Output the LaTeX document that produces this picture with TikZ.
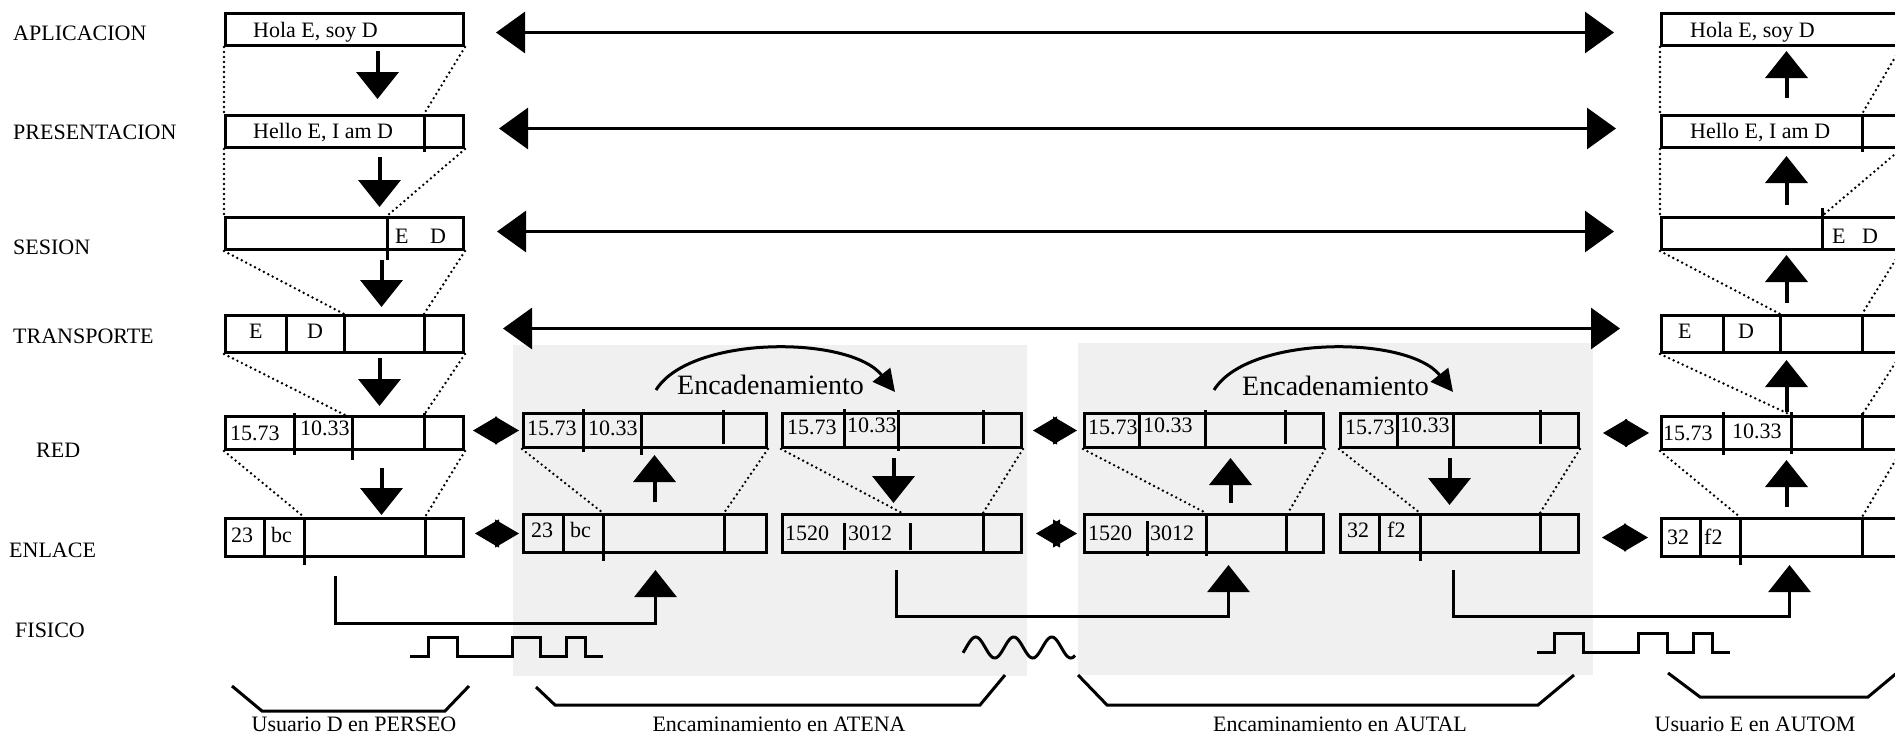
\documentclass[tikz,border=0pt]{standalone}
\usepackage{fontspec}
\setmainfont{Liberation Serif}
\usetikzlibrary{arrows.meta}

\newcommand{\fsz}{\fontsize{22pt}{26pt}\selectfont}
\newcommand{\encsz}{\fontsize{28pt}{32pt}\selectfont}
% packet box: name, x, y (top), width, height
\newcommand{\pktbox}[5]{\node[pkt, minimum width=#4pt, minimum height=#5pt] (#1) at (#2,#3) {};}
% field separator: box, dx from left, offset at top (+ = down), offset at bottom (+ = down)
\newcommand{\fieldsep}[4]{\draw[fieldline] ([shift={(#2,#3)}]#1.north west) -- ([shift={(#2,#4)}]#1.south west);}
% field text: name, box, dx from left, baseline below top, text
\newcommand{\fieldtext}[5]{\node[fieldtxt] (#1) at ([shift={(#3,#4)}]#2.north west) {#5};}

\begin{document}
\begin{tikzpicture}[x=1pt, y=-1pt,
  pkt/.style={draw, line width=3pt, rectangle, inner sep=0pt, anchor=north west},
  fieldline/.style={line width=3pt},
  fieldtxt/.style={font=\fsz, inner sep=0pt, anchor=base west},
  layer/.style={font=\fsz, inner sep=0pt, anchor=base west},
  caption/.style={font=\fsz, inner sep=0pt, anchor=base},
  enctxt/.style={font=\encsz, inner sep=0pt, anchor=base west},
  dots/.style={line width=2.7pt, line cap=round, dash pattern=on 0pt off 5pt},
  stack/.style={line width=4pt, -{Triangle[length=27pt,width=42pt]}},
  peer/.style={line width=3pt, {Triangle[length=29pt,width=41pt]}-{Triangle[length=29pt,width=41pt]}},
  hop/.style={line width=1pt, {Triangle[length=24pt,width=28pt]}-{Triangle[length=24pt,width=28pt]}},
  medium/.style={line width=3pt, -{Triangle[length=27pt,width=42pt]}},
  chainarrow/.style={line width=3pt, -{Triangle[length=22pt,width=22pt]}},
  brace/.style={line width=3pt},
  signal/.style={line width=3pt},
  zone/.style={fill=black!6}]

\useasboundingbox (0,0) rectangle (1895,737);
\clip (0,0) rectangle (1895,737);
\fill[white] (0,0) rectangle (1895,737);

% routers' shaded areas
\fill[zone] (513,345) rectangle (1027,676);
\fill[zone] (1078,343) rectangle (1593,675);

% layer names
\node[layer] (l-ap) at (13,40) {APLICACION};
\node[layer] (l-pr) at (13,139) {PRESENTACION};
\node[layer] (l-se) at (13,254) {SESION};
\node[layer] (l-tr) at (13,343) {TRANSPORTE};
\node[layer] (l-rd) at (36,457) {RED};
\node[layer] (l-en) at (9,557) {ENLACE};
\node[layer] (l-fi) at (15,637) {FISICO};

% ---------- host D (PERSEO) ----------
\pktbox{lc-ap}{224}{12}{238}{32}
\pktbox{lc-pr}{224}{114}{238}{32}
\pktbox{lc-se}{224}{216}{238}{32}
\pktbox{lc-tr}{224}{314}{238}{37}
\pktbox{lc-rd}{224}{415}{238}{33}
\pktbox{lc-en}{224}{517}{238}{38}
\fieldsep{lc-pr}{200}{0}{3}
\fieldsep{lc-se}{163}{3}{9}
\fieldsep{lc-tr}{62}{0}{0}
\fieldsep{lc-tr}{120}{0}{0}
\fieldsep{lc-tr}{200}{0}{0}
\fieldsep{lc-rd}{70}{-2}{4}
\fieldsep{lc-rd}{128}{0}{9}
\fieldsep{lc-rd}{200}{-2}{-3}
\fieldsep{lc-en}{40}{0}{0}
\fieldsep{lc-en}{80}{0}{7}
\fieldsep{lc-en}{201}{0}{0}
\fieldtext{t-lc-ap}{lc-ap}{29}{25}{Hola E, soy D}
\fieldtext{t-lc-pr}{lc-pr}{29}{24}{Hello E, I am D}
\fieldtext{t-lc-se1}{lc-se}{171}{27}{E}
\fieldtext{t-lc-se2}{lc-se}{206}{27}{D}
\fieldtext{t-lc-tr1}{lc-tr}{25}{24}{E}
\fieldtext{t-lc-tr2}{lc-tr}{83}{24}{D}
\fieldtext{t-lc-rd1}{lc-rd}{6}{25}{15.73}
\fieldtext{t-lc-rd2}{lc-rd}{76}{20}{10.33}
\fieldtext{t-lc-en1}{lc-en}{7}{25}{23}
\fieldtext{t-lc-en2}{lc-en}{47}{25}{bc}

% ---------- host E (AUTOM) ----------
\pktbox{rc-ap}{1660}{12}{238}{32}
\pktbox{rc-pr}{1660}{114}{238}{32}
\pktbox{rc-se}{1660}{216}{238}{32}
\pktbox{rc-tr}{1660}{314}{238}{37}
\pktbox{rc-rd}{1660}{415}{238}{33}
\pktbox{rc-en}{1660}{517}{238}{38}
\fieldsep{rc-pr}{202}{0}{3}
\fieldsep{rc-se}{162}{-8}{-3}
\fieldsep{rc-tr}{63}{0}{0}
\fieldsep{rc-tr}{120}{0}{0}
\fieldsep{rc-tr}{202}{0}{0}
\fieldsep{rc-rd}{63}{-3}{4}
\fieldsep{rc-rd}{131}{-3}{3}
\fieldsep{rc-rd}{202}{-2}{-3}
\fieldsep{rc-en}{40}{0}{0}
\fieldsep{rc-en}{80}{0}{7}
\fieldsep{rc-en}{202}{0}{0}
\fieldtext{t-rc-ap}{rc-ap}{30}{25}{Hola E, soy D}
\fieldtext{t-rc-pr}{rc-pr}{30}{24}{Hello E, I am D}
\fieldtext{t-rc-se1}{rc-se}{172}{27}{E}
\fieldtext{t-rc-se2}{rc-se}{202}{27}{D}
\fieldtext{t-rc-tr1}{rc-tr}{18}{24}{E}
\fieldtext{t-rc-tr2}{rc-tr}{78}{24}{D}
\fieldtext{t-rc-rd1}{rc-rd}{3}{25}{15.73}
\fieldtext{t-rc-rd2}{rc-rd}{72}{23}{10.33}
\fieldtext{t-rc-en1}{rc-en}{7}{27}{32}
\fieldtext{t-rc-en2}{rc-en}{44}{27}{f2}

% ---------- router ATENA ----------
\pktbox{at-rl}{522}{412}{243}{34}
\pktbox{at-el}{522}{513}{243}{38}
\pktbox{at-rr}{781}{412}{239}{34}
\pktbox{at-er}{781}{513}{239}{38}
\fieldsep{at-rl}{61}{-3}{3}
\fieldsep{at-rl}{119}{0}{6}
\fieldsep{at-rl}{201}{-2}{-5}
\fieldsep{at-el}{41}{0}{0}
\fieldsep{at-el}{81}{0}{7}
\fieldsep{at-el}{202}{0}{0}
\fieldsep{at-rr}{63}{-3}{0}
\fieldsep{at-rr}{117}{-2}{2}
\fieldsep{at-rr}{202}{-2}{-5}
\fieldsep{at-er}{63}{10}{-4}
\fieldsep{at-er}{129}{10}{-4}
\fieldsep{at-er}{202}{0}{0}
\fieldtext{t-at-rl1}{at-rl}{5}{23}{15.73}
\fieldtext{t-at-rl2}{at-rl}{66}{23}{10.33}
\fieldtext{t-at-el1}{at-el}{9}{24}{23}
\fieldtext{t-at-el2}{at-el}{48}{24}{bc}
\fieldtext{t-at-rr1}{at-rr}{6}{22}{15.73}
\fieldtext{t-at-rr2}{at-rr}{66}{20}{10.33}
\fieldtext{t-at-er1}{at-er}{4}{27}{1520}
\fieldtext{t-at-er2}{at-er}{67}{27}{3012}

% ---------- router AUTAL ----------
\pktbox{au-rl}{1083}{412}{239}{34}
\pktbox{au-el}{1083}{513}{239}{38}
\pktbox{au-rr}{1339}{412}{238}{34}
\pktbox{au-er}{1339}{513}{238}{38}
\fieldsep{au-rl}{56}{0}{0}
\fieldsep{au-rl}{122}{-2}{0}
\fieldsep{au-rl}{202}{-2}{-5}
\fieldsep{au-el}{64}{8}{2}
\fieldsep{au-el}{123}{0}{2}
\fieldsep{au-el}{203}{0}{0}
\fieldsep{au-rr}{58}{0}{0}
\fieldsep{au-rr}{114}{0}{0}
\fieldsep{au-rr}{201}{-2}{-5}
\fieldsep{au-er}{40}{0}{0}
\fieldsep{au-er}{81}{0}{7}
\fieldsep{au-er}{201}{0}{0}
\fieldtext{t-au-rl1}{au-rl}{5}{22}{15.73}
\fieldtext{t-au-rl2}{au-rl}{60}{20}{10.33}
\fieldtext{t-au-el1}{au-el}{5}{27}{1520}
\fieldtext{t-au-el2}{au-el}{67}{27}{3012}
\fieldtext{t-au-rr1}{au-rr}{6}{22}{15.73}
\fieldtext{t-au-rr2}{au-rr}{61}{20}{10.33}
\fieldtext{t-au-er1}{au-er}{8}{24}{32}
\fieldtext{t-au-er2}{au-er}{48}{24}{f2}

% ---------- encapsulation guides ----------
\draw[dots] (lc-ap.south west) -- (lc-pr.north west);
\draw[dots] (lc-ap.south east) -- ([xshift=200pt]lc-pr.north west);
\draw[dots] (lc-pr.south west) -- (lc-se.north west);
\draw[dots] (lc-pr.south east) -- ([xshift=163pt]lc-se.north west);
\draw[dots] (lc-se.south west) -- ([xshift=120pt]lc-tr.north west);
\draw[dots] (lc-se.south east) -- ([xshift=200pt]lc-tr.north west);
\draw[dots] (lc-tr.south west) -- ([xshift=121pt]lc-rd.north west);
\draw[dots] (lc-tr.south east) -- ([xshift=200pt]lc-rd.north west);
\draw[dots] (lc-rd.south west) -- ([xshift=80pt]lc-en.north west);
\draw[dots] (lc-rd.south east) -- ([xshift=201pt]lc-en.north west);

\draw[dots] (rc-ap.south west) -- (rc-pr.north west);
\draw[dots] (rc-ap.south east) -- ([xshift=202pt]rc-pr.north west);
\draw[dots] (rc-pr.south west) -- (rc-se.north west);
\draw[dots] (rc-pr.south east) -- ([xshift=162pt]rc-se.north west);
\draw[dots] (rc-se.south west) -- ([xshift=120pt]rc-tr.north west);
\draw[dots] (rc-se.south east) -- ([xshift=202pt]rc-tr.north west);
\draw[dots] (rc-tr.south west) -- ([xshift=131pt]rc-rd.north west);
\draw[dots] (rc-tr.south east) -- ([xshift=202pt]rc-rd.north west);
\draw[dots] (rc-rd.south west) -- ([xshift=80pt]rc-en.north west);
\draw[dots] (rc-rd.south east) -- ([xshift=202pt]rc-en.north west);

\draw[dots] (at-rl.south west) -- ([xshift=81pt]at-el.north west);
\draw[dots] (at-rl.south east) -- ([xshift=202pt]at-el.north west);
\draw[dots] (at-rr.south west) -- ([xshift=121pt]at-er.north west);
\draw[dots] (at-rr.south east) -- ([xshift=202pt]at-er.north west);
\draw[dots] (au-rl.south west) -- ([xshift=123pt]au-el.north west);
\draw[dots] (au-rl.south east) -- ([xshift=205pt]au-el.north west);
\draw[dots] (au-rr.south west) -- ([xshift=81pt]au-er.north west);
\draw[dots] (au-rr.south east) -- ([xshift=201pt]au-er.north west);

% ---------- down the stack at D ----------
\draw[stack, shorten <=4pt, shorten >=15pt] ([xshift=33pt]lc-ap.south) -- ([xshift=33pt]lc-pr.north);
\draw[stack, shorten <=8pt, shorten >=9pt] ([xshift=35pt]lc-pr.south) -- ([xshift=35pt]lc-se.north);
\draw[stack, shorten <=9pt, shorten >=7pt] ([xshift=37pt]lc-se.south) -- ([xshift=37pt]lc-tr.north);
\draw[stack, shorten <=4pt, shorten >=9pt] ([xshift=35pt]lc-tr.south) -- ([xshift=35pt]lc-rd.north);
\draw[stack, shorten <=17pt, shorten >=2pt] ([xshift=37pt]lc-rd.south) -- ([xshift=37pt]lc-en.north);

% ---------- up the stack at E ----------
\draw[stack, shorten <=16pt, shorten >=4pt] ([xshift=6pt]rc-pr.north) -- ([xshift=6pt]rc-ap.south);
\draw[stack, shorten <=11pt, shorten >=7pt] ([xshift=6pt]rc-se.north) -- ([xshift=6pt]rc-pr.south);
\draw[stack, shorten <=11pt, shorten >=4pt] ([xshift=6pt]rc-tr.north) -- ([xshift=6pt]rc-se.south);
\draw[stack, shorten <=3pt, shorten >=6pt] ([xshift=6pt]rc-rd.north) -- ([xshift=6pt]rc-tr.south);
\draw[stack, shorten <=10pt, shorten >=9pt] ([xshift=6pt]rc-en.north) -- ([xshift=6pt]rc-rd.south);

% ---------- inside the routers ----------
\draw[stack, shorten <=11pt, shorten >=6pt] ([xshift=9.5pt]at-el.north) -- ([xshift=9.5pt]at-rl.south);
\draw[stack, shorten <=9pt, shorten >=10pt] ([xshift=-8.5pt]at-rr.south) -- ([xshift=-8.5pt]at-er.north);
\draw[stack, shorten <=10pt, shorten >=9pt] ([xshift=26.5pt]au-el.north) -- ([xshift=26.5pt]au-rl.south);
\draw[stack, shorten <=9pt, shorten >=8pt] ([xshift=-10pt]au-rr.south) -- ([xshift=-10pt]au-er.north);

\draw[chainarrow] ([shift={(134,-22)}]at-rl.north west) .. controls +(34,-55) and +(-45,-57) .. ([shift={(114,-20)}]at-rr.north west);
\node[enctxt] (enc-at) at (677,394) {Encadenamiento};
\draw[chainarrow] ([shift={(131,-22)}]au-rl.north west) .. controls +(34,-55) and +(-45,-57) .. ([shift={(114,-20)}]au-rr.north west);
\node[enctxt] (enc-au) at (1242,395) {Encadenamiento};

% ---------- peer-to-peer dialogue ----------
\draw[peer, shorten <=31pt, shorten >=46pt] ([yshift=-3pt]lc-ap.east) -- ([yshift=-3pt]rc-ap.west);
\draw[peer, shorten <=34pt, shorten >=44pt] ([yshift=3pt]lc-pr.east) -- ([yshift=3pt]rc-pr.west);
\draw[peer, shorten <=32pt, shorten >=46pt] ([yshift=2pt]lc-se.east) -- ([yshift=2pt]rc-se.west);
\draw[peer, shorten <=38pt, shorten >=40pt] ([yshift=5.5pt]lc-tr.east) -- ([yshift=5.5pt]rc-tr.west);

\draw[hop, shorten <=8pt, shorten >=3pt] (lc-rd.east |- at-rl.west) -- (at-rl.west);
\draw[hop, shorten <=10pt, shorten >=3pt] (lc-en.east |- at-el.west) -- (at-el.west);
\draw[hop, shorten <=10pt, shorten >=6pt] (at-rr.east) -- (au-rl.west);
\draw[hop, shorten <=13pt, shorten >=6pt] (at-er.east) -- (au-el.west);
\draw[hop, shorten <=23pt, shorten >=11pt] (au-rr.east |- rc-rd.west) -- (rc-rd.west);
\draw[hop, shorten <=22pt, shorten >=12pt] (au-er.east |- rc-en.west) -- (rc-en.west);

% ---------- physical medium ----------
\draw[medium] ([xshift=-9pt,yshift=-18pt]lc-en.south) |- ([xshift=10.5pt,yshift=-69pt]at-el.south) -- ([xshift=10.5pt,yshift=-16pt]at-el.south);
\draw[medium] ([xshift=-5.5pt,yshift=-16pt]at-er.south) |- ([xshift=24.5pt,yshift=-62pt]au-el.south) -- ([xshift=24.5pt,yshift=-11pt]au-el.south);
\draw[medium] ([xshift=-6pt,yshift=-16pt]au-er.south) |- ([xshift=9pt,yshift=-58pt]rc-en.south) -- ([xshift=9pt,yshift=-7pt]rc-en.south);

% signals on the wire
\draw[signal] (410,656) -- (428,656) -- (428,637) -- (457,637) -- (457,656) -- (512,656) -- (512,637) -- (540,637) -- (540,656) -- (566,656) -- (566,637) -- (585,637) -- (585,656) -- (603,656);
\draw[signal] plot[smooth, domain=-30:1030, samples=80, variable=\t] ({963 + (\t+30)*0.1057}, {647.5 - 10.5*sin(\t)});
\draw[signal] (1537,652) -- (1554,652) -- (1554,633) -- (1583,633) -- (1583,652) -- (1638,652) -- (1638,633) -- (1667,633) -- (1667,652) -- (1693,652) -- (1693,633) -- (1712,633) -- (1712,652) -- (1730,652);

% ---------- machines ----------
\draw[brace] (232,686) -- (262,711) -- (445,711) -- (469,686);
\draw[brace] (536,687) -- (555,705) -- (980,705) -- (1005,675);
\draw[brace] (1078,675) -- (1107,705) -- (1538,705) -- (1574,675);
\draw[brace] (1668,673) -- (1700,697) -- (1868,697) -- (1898,672);
\node[caption] (m-d) at (354,731) {Usuario D en PERSEO};
\node[caption] (m-atena) at (779,731) {Encaminamiento en ATENA};
\node[caption] (m-autal) at (1340,731) {Encaminamiento en AUTAL};
\node[caption] (m-e) at (1755,731) {Usuario E en AUTOM};

\end{tikzpicture}
\end{document}
